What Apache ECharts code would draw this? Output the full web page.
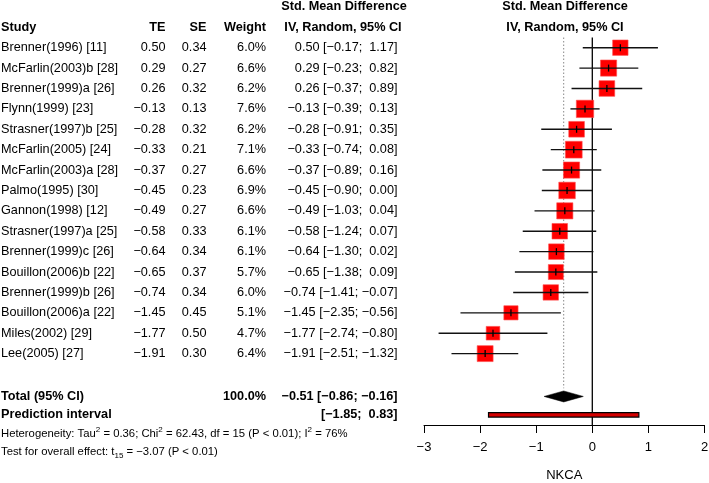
<!DOCTYPE html>
<html><head><meta charset="utf-8">
<script src="https://cdn.jsdelivr.net/npm/echarts@6/dist/echarts.min.js"></script>
<style>html,body{margin:0;padding:0;background:#fff}#c{width:709px;height:483px}</style>
</head><body><div id="c"></div>
<script>
const studies = ["Brenner(1996) [11]","McFarlin(2003)b [28]","Brenner(1999)a [26]","Flynn(1999) [23]","Strasner(1997)b [25]","McFarlin(2005) [24]","McFarlin(2003)a [28]","Palmo(1995) [30]","Gannon(1998) [12]","Strasner(1997)a [25]","Brenner(1999)c [26]","Bouillon(2006)b [22]","Brenner(1999)b [26]","Bouillon(2006)a [22]","Miles(2002) [29]","Lee(2005) [27]"];
const te = [0.50,0.29,0.26,-0.13,-0.28,-0.33,-0.37,-0.45,-0.49,-0.58,-0.64,-0.65,-0.74,-1.45,-1.77,-1.91];
const se = [0.34,0.27,0.32,0.13,0.32,0.21,0.27,0.23,0.27,0.33,0.34,0.37,0.34,0.45,0.50,0.30];
const weight = [6.0,6.6,6.2,7.6,6.2,7.1,6.6,6.9,6.6,6.1,6.1,5.7,6.0,5.1,4.7,6.4];
const lower = [-0.17,-0.23,-0.37,-0.39,-0.91,-0.74,-0.89,-0.90,-1.03,-1.24,-1.30,-1.38,-1.41,-2.35,-2.74,-2.51];
const upper = [1.17,0.82,0.89,0.13,0.35,0.08,0.16,0.00,0.04,0.07,0.02,0.09,-0.07,-0.56,-0.80,-1.32];
const totalEst = -0.51, totalLower = -0.86, totalUpper = -0.16, totalWeight = 100.0;
const predLower = -1.85, predUpper = 0.83;
const xTicks = [-3,-2,-1,0,1,2];

const FONT = "'Liberation Sans', Arial, Helvetica, sans-serif";
const FS = 12.7;
const fmt = v => (v < 0 ? '\u2212' : '') + Math.abs(v).toFixed(2);
const fmtCI = (lo, hi) => '[' + fmt(lo) + '; ' + (hi >= 0 ? ' ' : '') + fmt(hi) + ']';

const chart = echarts.init(document.getElementById('c'), null, {renderer: 'canvas'});
const nRows = studies.length;
const totalRow = nRows + 1.1, predRow = nRows + 2;

chart.setOption({
  animation: false,
  grid: {left: 424, right: 4.5, top: 37.5, bottom: 58, containLabel: false, outerBoundsMode: 'none'},
  xAxis: {type: 'value', min: xTicks[0], max: xTicks[xTicks.length-1], interval: 1,
    splitLine: {show: false},
    axisLine: {show: true, onZero: false, lineStyle: {color: '#000', width: 1}},
    axisTick: {show: true, length: 8, lineStyle: {color: '#000'}},
    axisLabel: {color: '#000', fontSize: 13, fontFamily: FONT, margin: 16,
      formatter: v => (v < 0 ? '\u2212' : '') + Math.abs(v)},
    name: 'NKCA', nameLocation: 'middle', nameGap: 44,
    nameTextStyle: {color: '#000', fontSize: 13, fontFamily: FONT}
  },
  yAxis: {type: 'value', min: -0.5, max: predRow + 0.5, inverse: true, show: false},
  series: [
    {type: 'line', data: [[0, -0.5], [0, predRow + 0.5]], symbol: 'none', silent: true,
      lineStyle: {color: '#000', width: 1.3}, z: 1},
    {type: 'line', data: [[totalEst, -0.5], [totalEst, totalRow - 0.4]], symbol: 'none', silent: true,
      lineStyle: {color: '#888', width: 1, type: [1.5, 2]}, z: 1},
    {type: 'custom', z: 3,
      data: te.map((v, i) => [v, i, lower[i], upper[i], weight[i]]),
      renderItem: (params, api) => {
        const c = api.coord([api.value(0), api.value(1)]);
        const l = api.coord([api.value(2), api.value(1)]);
        const u = api.coord([api.value(3), api.value(1)]);
        const s = 6.3 * Math.sqrt(api.value(4));
        return {type: 'group', children: [
          {type: 'rect', shape: {x: c[0] - s/2, y: c[1] - s/2, width: s, height: s},
            style: {fill: '#ff0000', stroke: '#ff5050', lineWidth: 0.6}},
          {type: 'line', shape: {x1: l[0], y1: l[1], x2: u[0], y2: u[1]},
            style: {stroke: '#111', lineWidth: 1.4}},
          {type: 'line', shape: {x1: c[0], y1: c[1] - 3.5, x2: c[0], y2: c[1] + 3.5},
            style: {stroke: '#000', lineWidth: 1.3}}
        ]};
      }
    },
    {type: 'custom', z: 3,
      data: [[totalEst, totalRow, totalLower, totalUpper]],
      renderItem: (params, api) => {
        const c = api.coord([api.value(0), api.value(1)]);
        const l = api.coord([api.value(2), api.value(1)]);
        const u = api.coord([api.value(3), api.value(1)]);
        const h = 5.5;
        return {type: 'polygon', shape: {points: [[l[0], c[1]], [c[0], c[1] - h], [u[0], c[1]], [c[0], c[1] + h]]},
          style: {fill: '#000', stroke: '#000', lineWidth: 0.5}};
      }
    },
    {type: 'custom', z: 3,
      data: [[predLower, predRow, predUpper]],
      renderItem: (params, api) => {
        const l = api.coord([api.value(0), api.value(1)]);
        const u = api.coord([api.value(2), api.value(1)]);
        const h = 4.5;
        return {type: 'rect', shape: {x: l[0], y: l[1] - h/2, width: u[0] - l[0], height: h},
          style: {fill: '#d40000', stroke: '#000', lineWidth: 1.2}};
      }
    }
  ]
});

const rowY = i => chart.convertToPixel({yAxisIndex: 0}, i);
const g = [];
function txt(text, x, y, align, bold, size) {
  g.push({type: 'text', silent: true, style: {text: text, x: x, y: y, textAlign: align || 'left',
    textVerticalAlign: 'middle', fill: '#000',
    font: (bold ? 'bold ' : '') + (size || FS) + 'px ' + FONT}});
}
const xStudy = 1, xTE = 165.5, xSE = 206.5, xW = 266, xCI = 397.5;
const yH1 = rowY(-2), yH2 = rowY(-1);
txt('Std. Mean Difference', 344, yH1, 'center', true);
txt('IV, Random, 95% CI', 343, yH2, 'center', true);
txt('Std. Mean Difference', 565, yH1, 'center', true);
txt('IV, Random, 95% CI', 565, yH2, 'center', true);
txt('Study', xStudy, yH2, 'left', true);
txt('TE', xTE, yH2, 'right', true);
txt('SE', xSE, yH2, 'right', true);
txt('Weight', xW, yH2, 'right', true);
for (let i = 0; i < nRows; i++) {
  const y = rowY(i);
  txt(studies[i], xStudy, y, 'left');
  txt(fmt(te[i]), xTE, y, 'right');
  txt(se[i].toFixed(2), xSE, y, 'right');
  txt(weight[i].toFixed(1) + '%', xW, y, 'right');
  txt(fmt(te[i]) + ' ' + fmtCI(lower[i], upper[i]), xCI, y, 'right');
}
const yT = rowY(totalRow), yP = rowY(predRow);
txt('Total (95% CI)', xStudy, yT, 'left', true);
txt(totalWeight.toFixed(1) + '%', xW, yT, 'right', true);
txt(fmt(totalEst) + ' ' + fmtCI(totalLower, totalUpper), xCI, yT, 'right', true);
txt('Prediction interval', xStudy, yP, 'left', true);
txt(fmtCI(predLower, predUpper), xCI, yP, 'right', true);

const HS = 11.3;
const rich = {
  b: {fontSize: HS, fontFamily: FONT, color: '#000', lineHeight: 16},
  sup: {fontSize: 8, fontFamily: FONT, color: '#000', verticalAlign: 'top', lineHeight: 9},
  sub: {fontSize: 8, fontFamily: FONT, color: '#000', verticalAlign: 'bottom', lineHeight: 9}
};
g.push({type: 'text', silent: true, style: {
  text: '{b|Heterogeneity: Tau}{sup|2}{b| = 0.36; Chi}{sup|2}{b| = 62.43, df = 15 (P < 0.01); I}{sup|2}{b| = 76%}',
  x: xStudy, y: yP + 19, textVerticalAlign: 'middle', textAlign: 'left', rich: rich,
  font: HS + 'px ' + FONT, fill: '#000'}});
g.push({type: 'text', silent: true, style: {
  text: '{b|Test for overall effect: t}{sub|15}{b| = \u22123.07 (P < 0.01)}',
  x: xStudy, y: yP + 37, textVerticalAlign: 'middle', textAlign: 'left', rich: rich,
  font: HS + 'px ' + FONT, fill: '#000'}});
chart.setOption({graphic: g});
</script></body></html>
